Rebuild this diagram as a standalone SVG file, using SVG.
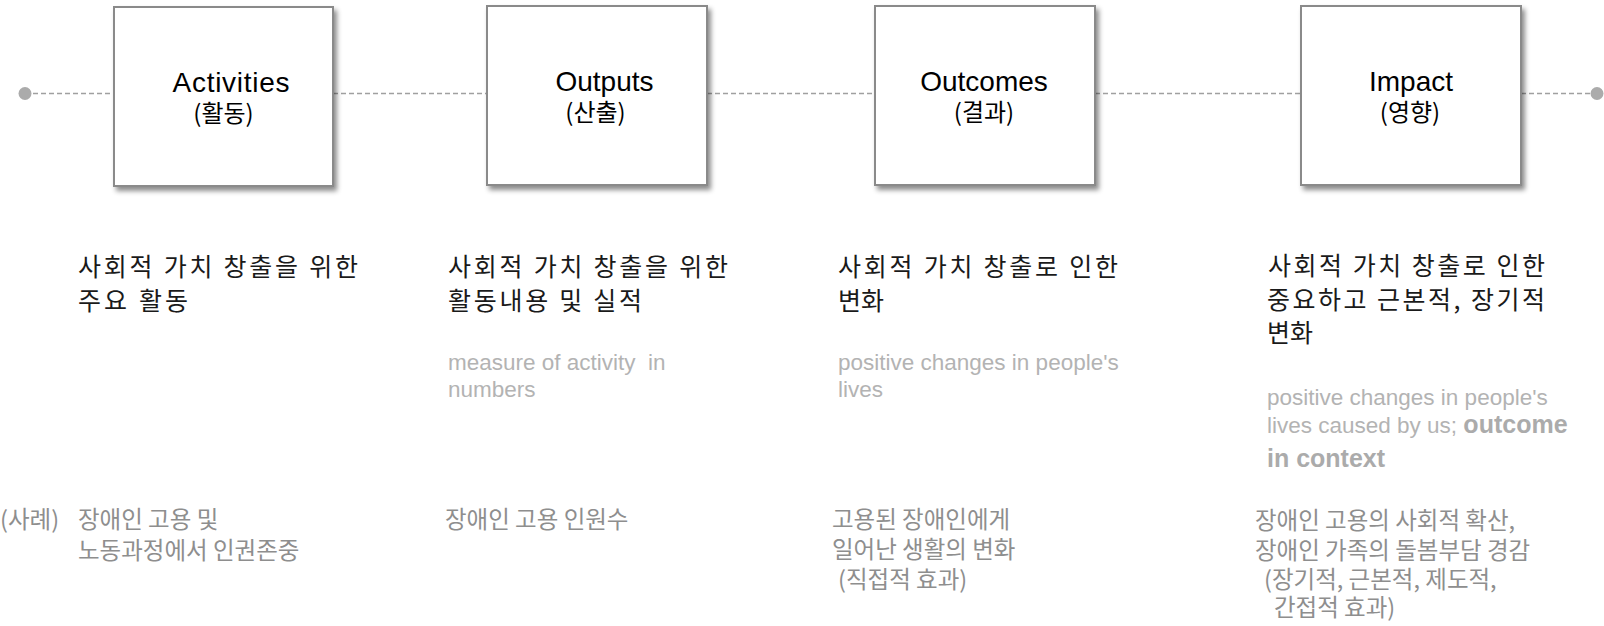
<svg xmlns="http://www.w3.org/2000/svg" width="1604" height="626" viewBox="0 0 1604 626">
<style>
.box{fill:#fff;stroke:#8a8a8a;stroke-width:2;filter:url(#sh)}
.conn{stroke:#a0a0a0;stroke-width:1.6;stroke-dasharray:5 3;fill:none}
.dot{fill:#ababab}
.t-en{font-family:"Liberation Sans",Arial,sans-serif;font-size:28px;fill:#000;text-anchor:middle}
.t-ko{font-family:"Noto Sans CJK KR","Liberation Sans",sans-serif;font-size:24px;fill:#000;text-anchor:middle}
.desc{font-family:"Noto Sans CJK KR",sans-serif;font-size:25px;fill:#1a1a1a}
.en{font-family:"Liberation Sans",Arial,sans-serif;font-size:22.5px;fill:#b3b3b3}
.enb{font-family:"Liberation Sans",Arial,sans-serif;font-size:25px;font-weight:bold;fill:#ababab}
.ex{font-family:"Noto Sans CJK KR",sans-serif;font-size:23.5px;fill:#8e8e8e}
</style>
<defs>
<filter id="sh" x="-10%" y="-10%" width="130%" height="130%">
<feDropShadow dx="3" dy="4" stdDeviation="2.5" flood-color="#000" flood-opacity="0.45"/>
</filter>
</defs>
<g id="connectors">
<line class="conn" x1="25" y1="93.5" x2="114" y2="93.5"/>
<line class="conn" x1="333" y1="93.5" x2="487" y2="93.5"/>
<line class="conn" x1="707" y1="93.5" x2="875" y2="93.5"/>
<line class="conn" x1="1095" y1="93.5" x2="1301" y2="93.5"/>
<line class="conn" x1="1521" y1="93.5" x2="1597" y2="93.5"/>
<circle class="dot" cx="25" cy="93.5" r="6.5"/>
<circle class="dot" cx="1597" cy="93.5" r="6.5"/>
</g>
<g id="activities">
<rect class="box" x="114" y="7" width="219" height="179"/>
<text class="t-en" x="231" y="92" textLength="117">Activities</text>
<text class="t-ko" x="223.5" y="122">(활동)</text>
<text class="desc" x="78" y="276" textLength="280">사회적 가치 창출을 위한</text>
<text class="desc" x="78" y="310" textLength="110">주요 활동</text>
<text class="ex" x="0" y="528">(사례)</text>
<text class="ex" x="78" y="528">장애인 고용 및</text>
<text class="ex" x="78" y="559">노동과정에서 인권존중</text>
</g>
<g id="outputs">
<rect class="box" x="487" y="6" width="220" height="179"/>
<text class="t-en" x="604.5" y="91">Outputs</text>
<text class="t-ko" x="595.5" y="121">(산출)</text>
<text class="desc" x="448" y="276" textLength="280">사회적 가치 창출을 위한</text>
<text class="desc" x="448" y="310" textLength="194">활동내용 및 실적</text>
<text class="en" x="448" y="370" xml:space="preserve">measure of activity  in</text>
<text class="en" x="448" y="397">numbers</text>
<text class="ex" x="445" y="528">장애인 고용 인원수</text>
</g>
<g id="outcomes">
<rect class="box" x="875" y="6" width="220" height="179"/>
<text class="t-en" x="984" y="91">Outcomes</text>
<text class="t-ko" x="984" y="121">(결과)</text>
<text class="desc" x="838" y="276" textLength="280">사회적 가치 창출로 인한</text>
<text class="desc" x="838" y="310">변화</text>
<text class="en" x="838" y="370">positive changes in people's</text>
<text class="en" x="838" y="397">lives</text>
<text class="ex" x="832" y="528">고용된 장애인에게</text>
<text class="ex" x="832" y="558">일어난 생활의 변화</text>
<text class="ex" x="838" y="588">(직접적 효과)</text>
</g>
<g id="impact">
<rect class="box" x="1301" y="6" width="220" height="179"/>
<text class="t-en" x="1411" y="91">Impact</text>
<text class="t-ko" x="1410" y="121">(영향)</text>
<text class="desc" x="1268" y="275" textLength="277">사회적 가치 창출로 인한</text>
<text class="desc" x="1267" y="309" textLength="278">중요하고 근본적, 장기적</text>
<text class="desc" x="1267" y="342">변화</text>
<text class="en" x="1267" y="405">positive changes in people's</text>
<text class="en" x="1267" y="433">lives caused by us; <tspan class="enb">outcome</tspan></text>
<text class="enb" x="1267" y="467">in context</text>
<text class="ex" x="1255" y="529">장애인 고용의 사회적 확산,</text>
<text class="ex" x="1255" y="559">장애인 가족의 돌봄부담 경감</text>
<text class="ex" x="1264" y="588">(장기적, 근본적, 제도적,</text>
<text class="ex" x="1274" y="616">간접적 효과)</text>
</g>
</svg>
